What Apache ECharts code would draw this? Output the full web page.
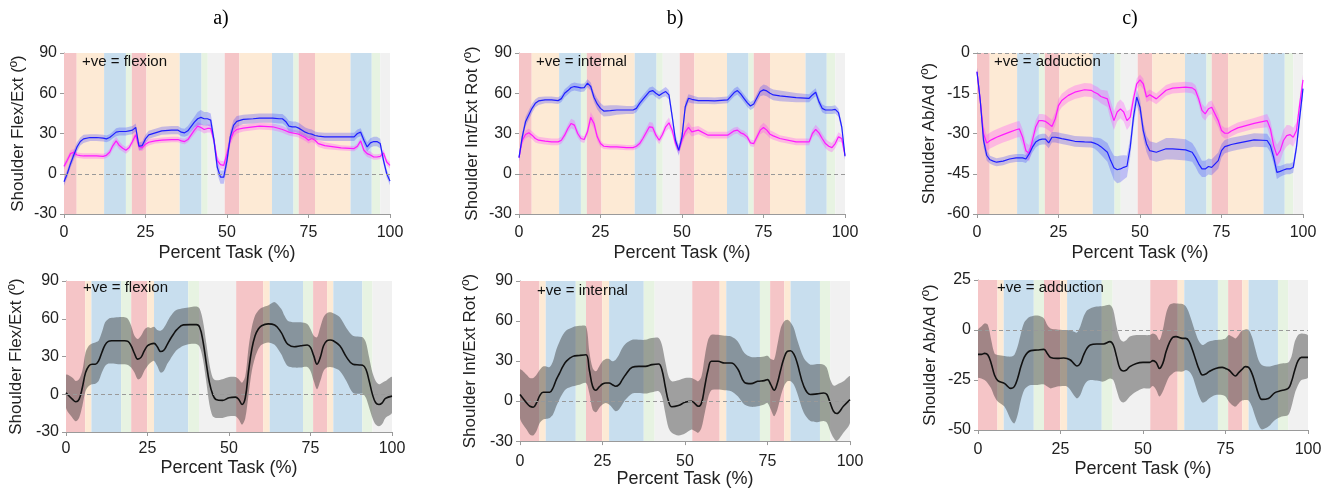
<!DOCTYPE html>
<html>
<head>
<meta charset="utf-8">
<script src="https://cdn.jsdelivr.net/npm/echarts/dist/echarts.min.js"></script>
<style>
html, body { margin: 0; padding: 0; background: #fff; }
#chart { width: 1333px; height: 489px; }
</style>
</head>
<body>
<div id="chart"></div>
<script>
// task phases: reach, transport, place, release, rest (repeated twice)
const PHASE_COLORS = ['#f5c5c7', '#fdead5', '#c8deee', '#e7f3e2', '#f1f1f1']
const PHASE_SEQ = [0, 1, 2, 3, 0, 1, 2, 3, 4, 0, 1, 2, 3, 0, 1, 2, 3, 4]
const TOP_EDGES = [0, 3.9, 12.3, 19, 20.8, 25.3, 35.5, 42.2, 44.1, 49.3, 53.8, 63.8, 70.4, 72, 77, 87.9, 94.4, 97, 100]
const BOT_EDGES = [0, 5.9, 7.8, 16.9, 20, 24.9, 27, 37.5, 40.8, 52.2, 60.5, 62.5, 72.7, 75.8, 80.1, 82, 90.9, 94, 100]

// top row: two groups (blue / magenta), mean and sd
const TOP_X = [0, 1, 2, 3, 4, 5, 6, 8, 10, 12, 13, 14, 15, 16, 17, 18, 19, 20, 21, 22, 23, 24, 25, 26, 28, 30, 33, 35, 36, 37, 38, 40, 41, 42, 43, 44, 45, 46, 47, 48, 49, 50, 51, 52, 53, 55, 58, 60, 64, 66, 67, 68, 69, 70, 71, 72, 74, 75, 76, 77, 78, 80, 85, 89, 90, 91, 92, 93, 94, 95, 96, 97, 98, 99, 100]

const A_TOP_BLUE = [-6, 0, 7.5, 14, 20, 24, 26, 27, 27, 26.5, 26, 27, 29, 31, 31.5, 31.5, 31.5, 32, 32.5, 34.5, 20.5, 21, 26, 29, 30.5, 32, 32.5, 32.5, 31, 30.5, 32, 38.5, 41, 42, 41, 41, 40, 25, 5, -2.5, -2.5, 10, 27.5, 36, 39, 40.5, 41, 41.5, 41.5, 41, 41, 39, 35.5, 35, 35, 34, 31, 30, 29.5, 28.5, 28, 27.5, 27.5, 27.5, 30, 31, 25, 20, 23, 24, 24, 22.5, 10, 0, -5.5]
const A_TOP_BLUE_SD = [3, 3, 3, 3.5, 3.5, 3, 3, 2.5, 2.5, 2.5, 2.5, 2.5, 2.5, 3, 3, 3, 3, 3, 3, 3, 3, 3, 3, 3, 3, 3, 3, 3, 3, 3, 3.5, 4, 5, 5.5, 5, 5, 5, 5, 5, 5, 5, 5, 4.5, 4, 4, 3.5, 3.5, 3.5, 3.5, 3.5, 3.5, 3.5, 4, 4, 4, 4, 3.5, 3.5, 3.5, 3, 3, 3, 3, 3, 3, 3, 3.5, 3.5, 3.5, 3.5, 3.5, 3.5, 3, 3, 3]
const A_TOP_MAG = [5.5, 10, 15, 16, 14, 13.5, 13.25, 13.25, 13.25, 13, 13.75, 16, 21, 24.5, 21, 19, 17.5, 19.5, 24, 29, 20, 19.5, 22, 23.5, 24.5, 25, 25.5, 25.5, 24.5, 24, 25.5, 32.5, 35.5, 34.5, 33, 33.75, 33.75, 25, 10, 6.75, 6.25, 15, 25, 31, 33, 34, 35, 35.5, 35, 33.75, 33, 32, 31, 30.5, 30, 29.5, 27, 25, 26.25, 25, 22.5, 21, 19.25, 18.75, 20.5, 24.5, 17.5, 15, 14, 12.5, 12.5, 13, 15.5, 8.75, 6.25]
const A_TOP_MAG_SD = [2.5, 2.5, 2.5, 2.5, 2, 2, 2, 2, 2, 2, 2, 2.5, 3, 3, 3, 2.5, 2.5, 2.5, 2.5, 3, 3, 2.5, 2.5, 2.5, 2, 2, 2, 2, 2, 2, 2, 3, 3, 3, 3, 3, 3, 3, 3, 3, 3, 4, 4, 4, 3, 2.5, 2.5, 2.5, 2.5, 2.5, 2.5, 2.5, 2.5, 2.5, 2.5, 2.5, 2.5, 2.5, 2.5, 2.5, 2.5, 2.5, 2, 2, 2, 2.5, 2.5, 2.5, 2.5, 2, 2, 2, 2.5, 2.5, 2.5]

const B_TOP_BLUE = [12, 27.5, 38.75, 43.75, 48.75, 52.5, 54.25, 55, 55, 54.5, 56, 60, 62, 64.25, 65, 64.5, 64, 64.25, 67.5, 65, 57, 52, 48.75, 46.75, 47, 47.5, 47.5, 47.5, 48.75, 52.5, 55.5, 61.25, 62, 60, 58.25, 60, 61.25, 58.75, 42.5, 25, 17.5, 27.5, 50, 56.25, 55.5, 54.5, 54.5, 54.25, 55, 60.5, 62, 59.5, 56.25, 53, 50.5, 52, 61.25, 62.5, 61.75, 60, 58.75, 58, 56.75, 56.25, 58.75, 60.75, 53.75, 48.75, 47.5, 47.5, 47.5, 48, 45.5, 35, 13]
const B_TOP_BLUE_SD = [3, 3, 3.5, 3.5, 3.5, 3, 3, 2.5, 2.5, 2.5, 2.5, 3, 3, 3, 3, 3, 3, 3, 3, 3, 3.5, 4, 4, 4, 4, 3.5, 3, 3, 3, 3, 3, 3, 3, 3, 3, 3, 3.5, 3.5, 4, 4, 4, 4, 3.5, 3, 3, 2.5, 2.5, 2.5, 2.5, 3, 3, 3, 3, 3, 3, 3, 3.5, 4, 4, 4, 4, 4, 3.5, 3, 3, 3, 3, 3, 3, 3, 3, 3, 3, 3, 3]
const B_TOP_MAG = [12, 25, 29.25, 30.5, 28.75, 26.25, 25, 24.25, 23.75, 23.75, 25, 28.75, 33.75, 37.5, 36.25, 30, 26.25, 25.5, 31.25, 42, 37.5, 27.5, 22.5, 20.5, 20, 20, 19.5, 19.5, 20.5, 22.5, 26.25, 35, 34.5, 28.75, 25, 29.25, 35, 38, 32.5, 22.5, 17.5, 25, 31.25, 34.5, 31.25, 32.5, 28.75, 28.75, 28.75, 32, 32.5, 30.5, 29.5, 27.5, 23, 22.5, 32.5, 34.5, 32.5, 29.5, 28.25, 26.25, 23.75, 23.75, 30, 33, 30.5, 26.25, 22.5, 20.5, 19.5, 22.5, 27.5, 26.25, 13.75]
const B_TOP_MAG_SD = [2.5, 3, 3, 3, 3, 3, 2.5, 2.5, 2.5, 2.5, 2.5, 3, 3, 3.5, 3.5, 3, 2.5, 2.5, 3, 4, 4, 3, 2.5, 2, 2, 2, 2, 2, 2, 2.5, 3, 3.5, 3.5, 3, 3, 3, 3.5, 4, 3.5, 3, 3, 3, 3.5, 4, 3.5, 3, 2.5, 2.5, 2.5, 2.5, 2.5, 2.5, 2.5, 2.5, 2.5, 2.5, 3, 3.5, 3.5, 3, 3, 2.5, 2.5, 2.5, 3, 3.5, 3.5, 3.5, 3.5, 3.5, 3.5, 3.5, 3.5, 3, 3]

const C_TOP_BLUE = [-7, -17.7, -32.6, -38.2, -39.8, -40.3, -40.7, -40.3, -39.5, -39.1, -39.1, -39.1, -39.5, -37.6, -35.1, -33.2, -32.4, -32.1, -32.1, -33.5, -31.4, -31.4, -31.6, -31.9, -32.4, -32.9, -33.1, -33.2, -33.6, -34.1, -34.9, -37, -40.1, -42.8, -43.5, -43.2, -42.6, -42.2, -35.1, -23.9, -16.4, -20.2, -28.9, -33.9, -36.4, -37, -35.7, -35.7, -36.1, -37, -38.9, -41.3, -43.2, -43.2, -42.3, -42.6, -40.1, -36.4, -34.9, -34.5, -34.1, -33.6, -32.4, -32.6, -34.5, -38.9, -44.5, -44.1, -43.6, -43.2, -43.2, -42.6, -35.1, -23.9, -13.3]
const C_TOP_BLUE_SD = [1.5, 2, 2.5, 2, 1.5, 1.5, 1.5, 1.5, 1.5, 1.5, 1.5, 1.5, 1.5, 2, 2, 2, 2, 2, 2, 2, 2, 2, 2, 2, 2, 2, 2, 2, 2, 2.5, 3, 3.5, 4, 4.5, 5, 5, 4.5, 4, 3.5, 3.5, 3, 3, 3, 3, 3.5, 3.5, 4, 4, 4, 3.5, 3.5, 3.5, 3, 3, 3, 3, 3, 2.5, 2.5, 2.5, 2.5, 2.5, 2.5, 2.5, 2.5, 2.5, 2.5, 2, 2, 2, 2, 2, 2, 2.5, 2.5]
const C_TOP_MAG = [-7, -17.7, -30.1, -33.6, -32.6, -32, -31.4, -30.4, -29.5, -28.6, -28.3, -31.4, -36.4, -37.4, -32.6, -27.6, -25.2, -25.2, -25.5, -26.4, -27.4, -24.5, -19.6, -17.7, -15.8, -14.6, -13.7, -13.9, -14.6, -15.2, -16.2, -17.1, -21.4, -25.2, -22, -20.8, -22, -25.2, -23.9, -17.1, -11.5, -10, -11.5, -16.4, -15.6, -17.1, -13.9, -13.1, -12.7, -13, -13.9, -17.1, -21.4, -22.7, -20.8, -20.2, -25.2, -28.9, -29.9, -29.9, -29.1, -27.9, -26.2, -25.2, -28.3, -34.5, -38.2, -36.4, -32.6, -30.8, -30.4, -31.4, -28.9, -19, -10]
const C_TOP_MAG_SD = [1.5, 2, 3, 3, 3, 3, 3, 3, 3, 3, 3, 3, 3, 3, 3, 2.5, 2.5, 2.5, 2.5, 2.5, 2.5, 2.5, 2.5, 2.5, 2.5, 2.5, 2.5, 2.5, 2.5, 2.5, 2.5, 3, 3.5, 3.5, 3.5, 3.5, 3.5, 3.5, 3, 2.5, 2, 2, 2, 2, 2, 2, 2, 2, 2, 2, 2, 2, 2.5, 2.5, 2.5, 2.5, 2.5, 2, 2, 2, 2, 2, 2, 2.5, 3, 3.5, 4, 4, 4, 4, 3.5, 3.5, 3, 2.5, 2]

// bottom row: mean with upper / lower edge of the spread
const A_BOT_X = [0, 2, 3, 4, 5, 6, 7, 8, 9, 10, 11, 12, 13, 14, 16, 18, 19, 20, 21, 22, 23, 24, 25, 26, 27, 28, 29, 30, 31, 32, 33, 34, 36, 38, 40, 41, 42, 43, 44, 45, 46, 48, 50, 52, 53, 54, 55, 56, 57, 58, 59, 60, 62, 64, 66, 67, 68, 70, 72, 74, 75, 76, 77, 78, 79, 80, 81, 82, 84, 86, 88, 90, 91, 92, 93, 94, 95, 96, 97, 98, 100]
const A_BOT_MEAN = [1.2, -4.1, -6, -4.1, 5.2, 17.2, 22.5, 23.9, 23.9, 26.5, 33.2, 39.3, 42, 42.5, 42.5, 42.5, 42, 38.5, 32.4, 27.9, 29.3, 34.5, 38.5, 39.9, 40.4, 37.7, 34, 35, 39.3, 43.9, 47.9, 51.3, 55.1, 55.3, 55.3, 53.2, 42.5, 25.2, 9.2, -0.1, -4.1, -4.9, -2.8, -2.3, -4.1, -8.1, -2.8, 18.5, 35.9, 46.5, 51.9, 54.5, 55.9, 55.1, 49.2, 43.9, 39.9, 37.7, 38.5, 39.1, 37.2, 30.5, 23.9, 29.3, 38.5, 42.5, 43.1, 42.5, 38.5, 29.7, 23.9, 23.3, 23.1, 19.9, 10.5, -0.1, -6.8, -8.1, -6.8, -3.3, -1.5]
const A_BOT_UP = [15.3, 13.2, 10.5, 11.9, 18.5, 33.2, 38.5, 40.4, 41.2, 42.5, 49.2, 57.2, 59.9, 60.7, 61.2, 61.2, 59.9, 54.5, 46.5, 43.9, 46.5, 51.1, 53.2, 52.7, 53.7, 51.1, 50.5, 52.7, 57.2, 61.7, 65.2, 67.1, 68.4, 69.2, 69.7, 67.9, 58.5, 41.2, 23.9, 13.2, 11.1, 11.9, 13.7, 13.7, 11.9, 9.2, 14.5, 37.2, 53.2, 62.5, 66.5, 68.7, 70.5, 73.2, 67.9, 62.5, 58.5, 57.2, 57.2, 55.9, 51.9, 46.5, 45.2, 53.2, 61.2, 64.4, 65.2, 64.4, 61.2, 52.7, 46.5, 45.7, 45.2, 41.2, 29.2, 17.2, 10.5, 7.9, 9.2, 10.5, 13.7]
const A_BOT_LO = [-10.8, -18.8, -21.5, -18.8, -9.5, 2.5, 6.5, 7.9, 8.4, 10.5, 17.2, 22.5, 24.4, 24.4, 23.9, 23.9, 23.3, 21.2, 17.2, 11.9, 13.2, 18.5, 22.5, 25.2, 26.5, 22.5, 17.2, 18.5, 23.9, 27.9, 31.9, 35.1, 38.5, 39.9, 39.9, 37.7, 27.9, 10.5, -8.1, -17.5, -18.8, -18.8, -17.5, -17.5, -20.1, -24.1, -18.8, -0.1, 18.5, 29.2, 35.9, 39.3, 41.2, 39.3, 31.9, 26.5, 22.5, 21.2, 21.2, 21.7, 18.5, 10.5, 3.9, 10.5, 18.5, 21.2, 21.7, 21.2, 18.5, 10.5, 1.2, 0.4, 0.4, -2.8, -10.8, -18.8, -24.1, -25.5, -23.6, -18.8, -14.8]

const B_BOT_X = [0, 2, 3, 4, 5, 6, 7, 8, 9, 10, 11, 12, 13, 14, 16, 18, 20, 21, 22, 23, 24, 25, 26, 27, 28, 29, 30, 31, 32, 34, 36, 38, 40, 42, 43, 44, 45, 46, 48, 50, 52, 53, 54, 55, 56, 57, 58, 60, 62, 64, 66, 68, 70, 72, 74, 75, 76, 77, 78, 79, 80, 81, 82, 83, 84, 86, 88, 90, 92, 93, 94, 95, 96, 98, 100]
const B_BOT_MEAN = [4.9, -1.4, -3.9, -4.6, -1.4, 4.1, 6.6, 6.6, 6.6, 9.8, 16.1, 21, 26, 29.8, 33.5, 34.2, 34.7, 23.5, 11.1, 8.1, 10.6, 12.8, 13.6, 13.6, 12.3, 11.1, 12.3, 16.1, 19.8, 25.3, 26, 26, 27.3, 27.8, 23.5, 11.1, -0.1, -4.3, -3.4, -0.9, -0.1, -1.9, -3.9, -1.4, 11.1, 23.5, 29.8, 29.8, 28.5, 28.5, 24, 14.1, 13.1, 14.8, 15.3, 16.1, 12.3, 8.1, 13.6, 23.5, 32.2, 37.2, 37.7, 35.2, 28.5, 11.1, 4.9, 5.4, 6.1, 4.9, -1.4, -7.6, -9.3, -3.9, 1.1]
const B_BOT_UP = [23.5, 19.8, 17.3, 17.3, 19.8, 23.5, 26, 26, 25.5, 29.8, 38.5, 44.7, 49.7, 52.9, 55.4, 56.4, 56, 37.2, 24.8, 22.3, 26, 29.8, 31.5, 31.5, 29.8, 31, 34.7, 39.7, 43, 45.9, 45.9, 45.9, 47.2, 47.2, 42.2, 29.8, 18.6, 14.8, 15.6, 17.3, 17.3, 16.1, 14.8, 18.6, 33.5, 45.9, 49.7, 49.7, 48.9, 48.4, 44.7, 36, 33, 33, 33.5, 34, 31.5, 31, 42.2, 54.6, 59.6, 60.9, 58.9, 54.6, 45.9, 32.2, 27.3, 27.8, 27.3, 24.8, 16.1, 11.6, 12.3, 14.8, 18.6]
const B_BOT_LO = [-12.6, -21.3, -25, -25.8, -22.5, -16.3, -13.8, -13.3, -12.6, -10.1, -3.9, 1.6, 6.1, 9.1, 11.1, 12.3, 13.6, 6.1, -6.3, -8.3, -5.1, -2.6, -1.4, -2.6, -5.1, -7.6, -6.3, -2.6, 1.1, 5.6, 6.1, 5.6, 6.6, 7.4, 3.6, -8.8, -20, -23.8, -25.8, -24.3, -21.3, -22.5, -23.8, -20, -8.8, 2.4, 8.1, 8.6, 8.1, 7.4, 3.6, -2.6, -4.3, -3.9, -2.6, -1.4, -6.3, -11.3, -6.3, 3.6, 11.1, 14.8, 14.8, 12.3, 6.1, -8.8, -15, -15.8, -15, -16.3, -22.5, -27.5, -30, -23.8, -16.3]

const C_BOT_X = [0, 1, 2, 3, 4, 5, 6, 8, 10, 11, 12, 13, 14, 15, 16, 18, 20, 21, 22, 24, 26, 27, 28, 29, 30, 31, 32, 33, 34, 36, 38, 40, 41, 42, 43, 44, 45, 46, 48, 50, 52, 53, 54, 55, 56, 57, 58, 59, 60, 62, 63, 64, 65, 66, 67, 68, 69, 70, 72, 74, 75, 76, 77, 78, 79, 80, 81, 82, 83, 84, 85, 86, 88, 90, 92, 94, 95, 96, 97, 98, 100]
const C_BOT_MEAN = [-12.2, -12.2, -11.7, -12.5, -16.7, -22.5, -25.3, -26.7, -29.2, -28.3, -24.2, -18.3, -13.7, -11.3, -10.3, -10, -9.7, -11.7, -13.7, -14.2, -14, -14.2, -15, -16.7, -18, -16.7, -12.5, -9.2, -7.5, -7, -7, -5.8, -7.5, -13.3, -19.2, -20.5, -20, -18.3, -16.7, -16.2, -16.2, -15.3, -16.3, -19.2, -16.7, -10.8, -6.3, -3.7, -3.3, -4.2, -4.2, -5.8, -10, -15, -19.7, -22.5, -22, -20.8, -19.2, -18.7, -19.2, -20, -21.7, -23, -21.3, -19.7, -18.3, -18.7, -21.7, -26.7, -32, -34.7, -34.2, -31.3, -30.3, -29.2, -25.8, -20, -15.3, -13.7, -13.7]
const C_BOT_UP = [0, 1.7, 3.3, 2.5, -5, -11.7, -12.5, -13, -13.3, -12.5, -8.3, -1.7, 3.7, 5.8, 6.7, 7.2, 5.8, 2.5, 0.8, 0.3, 0, 0, -0.3, -0.8, -1.3, 1.7, 6.7, 9.7, 10.8, 11.7, 12, 12.5, 10, 1.7, -4.2, -5.8, -5, -3.3, -2.5, -2.5, -2.5, -1.7, -2.5, -5, 0, 8.3, 12.5, 13.3, 13.3, 13, 11.7, 8.3, 3.3, -1.7, -5.8, -7.5, -6.7, -5.8, -5, -4.7, -4.2, -2.5, -3.3, -4.2, -2.5, -0.3, 0.3, 0, -3.3, -9.2, -15, -17.5, -18.3, -17.5, -16.7, -16.3, -13.3, -5.8, -2.5, -1.7, -2.8]
const C_BOT_LO = [-23.7, -24.2, -25, -26.7, -29.2, -33.3, -35.8, -38.3, -45, -46.7, -42.5, -35, -30, -28.3, -27.5, -27.5, -27.2, -28.3, -29.2, -28.3, -28, -28.3, -30, -32.5, -34.2, -32.5, -28.3, -25.8, -25, -25.3, -25.8, -24.2, -25, -30, -35, -36.3, -35.3, -33.3, -30.8, -29.2, -29.2, -28, -30, -33.3, -30.8, -26.7, -23.3, -21.7, -20.8, -20.8, -20, -20.8, -23.3, -28.3, -33.3, -36.3, -35.8, -34.2, -32.5, -32.5, -33.3, -35.8, -37.5, -38.3, -36.7, -35.3, -35, -35.3, -38.3, -43.3, -47.5, -49.7, -48.3, -45, -43.3, -42.5, -38.3, -31.7, -27.5, -25, -23.7]

const FONT = 'Liberation Sans, Arial, Helvetica, sans-serif'

const panels = [
  { grid: { left: 64, top: 53, width: 326, height: 161 }, y: [-30, 90, 30], yName: 'Shoulder Flex/Ext (º)', yGap: 35, xMargin: 11, xGap: 30, edges: TOP_EDGES, note: '+ve = flexion', noteAt: [82, 54],
    groups: [{ x: TOP_X, mean: A_TOP_MAG, sd: A_TOP_MAG_SD, c: 'mag' }, { x: TOP_X, mean: A_TOP_BLUE, sd: A_TOP_BLUE_SD, c: 'blue' }] },
  { grid: { left: 519, top: 53, width: 326, height: 161 }, y: [-30, 90, 30], yName: 'Shoulder Int/Ext Rot (º)', yGap: 36, xMargin: 11, xGap: 30, edges: TOP_EDGES, note: '+ve = internal', noteAt: [536, 54],
    groups: [{ x: TOP_X, mean: B_TOP_MAG, sd: B_TOP_MAG_SD, c: 'mag' }, { x: TOP_X, mean: B_TOP_BLUE, sd: B_TOP_BLUE_SD, c: 'blue' }] },
  { grid: { left: 977, top: 53, width: 326, height: 161 }, y: [-60, 0, 15], yName: 'Shoulder Ab/Ad (º)', yGap: 37, xMargin: 11, xGap: 30, edges: TOP_EDGES, note: '+ve = adduction', noteAt: [994, 54],
    groups: [{ x: TOP_X, mean: C_TOP_MAG, sd: C_TOP_MAG_SD, c: 'mag' }, { x: TOP_X, mean: C_TOP_BLUE, sd: C_TOP_BLUE_SD, c: 'blue' }] },
  { grid: { left: 66, top: 281, width: 326, height: 151 }, y: [-30, 90, 30], yName: 'Shoulder Flex/Ext (º)', yGap: 39, xMargin: 9, xGap: 27, edges: BOT_EDGES, note: '+ve = flexion', noteAt: [83, 280],
    groups: [{ x: A_BOT_X, mean: A_BOT_MEAN, up: A_BOT_UP, lo: A_BOT_LO, c: 'gray' }] },
  { grid: { left: 520, top: 281, width: 330, height: 161 }, y: [-30, 90, 30], yName: 'Shoulder Int/Ext Rot (º)', yGap: 39, xMargin: 12, xGap: 28, edges: BOT_EDGES, note: '+ve = internal', noteAt: [537, 283],
    groups: [{ x: B_BOT_X, mean: B_BOT_MEAN, up: B_BOT_UP, lo: B_BOT_LO, c: 'gray' }] },
  { grid: { left: 978, top: 280, width: 330, height: 150 }, y: [-50, 25, 25], yName: 'Shoulder Ab/Ad (º)', yGap: 37, xMargin: 12, xGap: 30, edges: BOT_EDGES, note: '+ve = adduction', noteAt: [997, 280],
    groups: [{ x: C_BOT_X, mean: C_BOT_MEAN, up: C_BOT_UP, lo: C_BOT_LO, c: 'gray' }] }
]

const STYLE = {
  blue: { line: '#1f1fff', area: 'rgba(50,50,255,0.27)', width: 1.2, smooth: false, polySmooth: 0 },
  mag: { line: '#ff1aff', area: 'rgba(255,50,255,0.27)', width: 1.2, smooth: false, polySmooth: 0 },
  gray: { line: '#111', area: 'rgba(45,45,45,0.42)', width: 1.6, smooth: 0.4, polySmooth: 0.3 }
}

function pairs (xs, ys) {
  return xs.map((x, i) => [x, ys[i]])
}

// shaded spread between lo and up, drawn through the axis scales
function bandSeries (i, xs, lo, up, st) {
  return {
    type: 'custom', xAxisIndex: i, yAxisIndex: i, z: 2, silent: true,
    data: [[xs[0], lo[0]]],
    encode: { x: 0, y: 1 },
    renderItem: function (params, api) {
      const top = xs.map((x, j) => api.coord([x, up[j]]))
      const bot = xs.map((x, j) => api.coord([x, lo[j]])).reverse()
      const cs = params.coordSys
      return {
        type: 'group',
        clipPath: { type: 'rect', shape: { x: cs.x, y: cs.y, width: cs.width, height: cs.height } },
        children: [{
          type: 'polygon',
          shape: { points: top.concat(bot), smooth: st.polySmooth },
          style: { fill: st.area, stroke: null }
        }]
      }
    }
  }
}

const grids = []
const xAxes = []
const yAxes = []
const series = []
const graphics = []

panels.forEach((p, i) => {
  grids.push(p.grid)
  xAxes.push({
    type: 'value', gridIndex: i, min: 0, max: 100, interval: 25,
    axisLine: { show: true, onZero: false, lineStyle: { color: '#9a9a9a' } },
    axisTick: { show: true, length: 4, lineStyle: { color: '#9a9a9a' } },
    splitLine: { show: false },
    axisLabel: { fontSize: 16, color: '#222', margin: p.xMargin, fontFamily: FONT },
    name: 'Percent Task (%)', nameLocation: 'middle', nameGap: p.xGap,
    nameTextStyle: { fontSize: 18, color: '#222', fontFamily: FONT }
  })
  yAxes.push({
    type: 'value', gridIndex: i, min: p.y[0], max: p.y[1], interval: p.y[2], offset: 2,
    axisLine: { show: true, lineStyle: { color: '#9a9a9a' } },
    axisTick: { show: true, length: 4, lineStyle: { color: '#9a9a9a' } },
    splitLine: { show: false },
    axisLabel: { fontSize: 16, color: '#222', margin: 5, fontFamily: FONT },
    name: p.yName, nameLocation: 'middle', nameGap: p.yGap,
    nameTextStyle: { fontSize: 17, color: '#222', fontFamily: FONT }
  })

  // background phase bands and zero line
  series.push({
    type: 'line', xAxisIndex: i, yAxisIndex: i, z: 1, silent: true,
    data: pairs(p.groups[0].x, p.groups[0].mean),
    showSymbol: false, lineStyle: { opacity: 0 },
    markArea: {
      silent: true,
      data: p.edges.slice(0, -1).map((e, k) => [
        { xAxis: e, itemStyle: { color: PHASE_COLORS[PHASE_SEQ[k]] } },
        { xAxis: p.edges[k + 1] }
      ])
    },
    markLine: {
      silent: true, symbol: 'none', label: { show: false },
      lineStyle: { color: '#999', type: [4, 3], width: 1 },
      data: [{ yAxis: 0 }]
    }
  })

  p.groups.forEach((g) => {
    const st = STYLE[g.c]
    const lo = g.lo || g.mean.map((m, j) => m - g.sd[j])
    const up = g.up || g.mean.map((m, j) => m + g.sd[j])
    series.push(bandSeries(i, g.x, lo, up, st))
  })
  // mean lines on top
  p.groups.forEach((g) => {
    const st = STYLE[g.c]
    series.push({
      type: 'line', xAxisIndex: i, yAxisIndex: i, z: 3, silent: true,
      smooth: st.smooth, data: pairs(g.x, g.mean), showSymbol: false,
      lineStyle: { color: st.line, width: st.width }
    })
  })

  graphics.push({
    type: 'text', left: p.noteAt[0], top: p.noteAt[1], z: 10,
    style: { text: p.note, fontSize: 15, fill: '#111', fontFamily: FONT }
  })
})

;[['a)', 221], ['b)', 675], ['c)', 1130]].forEach(t => {
  graphics.push({
    type: 'text', x: t[1], y: 9, z: 10,
    style: { text: t[0], fontSize: 20, fill: '#000', fontFamily: 'Liberation Serif, Times New Roman, serif', textAlign: 'center' }
  })
})

const chart = echarts.init(document.getElementById('chart'))
chart.setOption({
  animation: false,
  backgroundColor: '#fff',
  grid: grids,
  xAxis: xAxes,
  yAxis: yAxes,
  series: series,
  graphic: graphics
})
</script>
</body>
</html>
